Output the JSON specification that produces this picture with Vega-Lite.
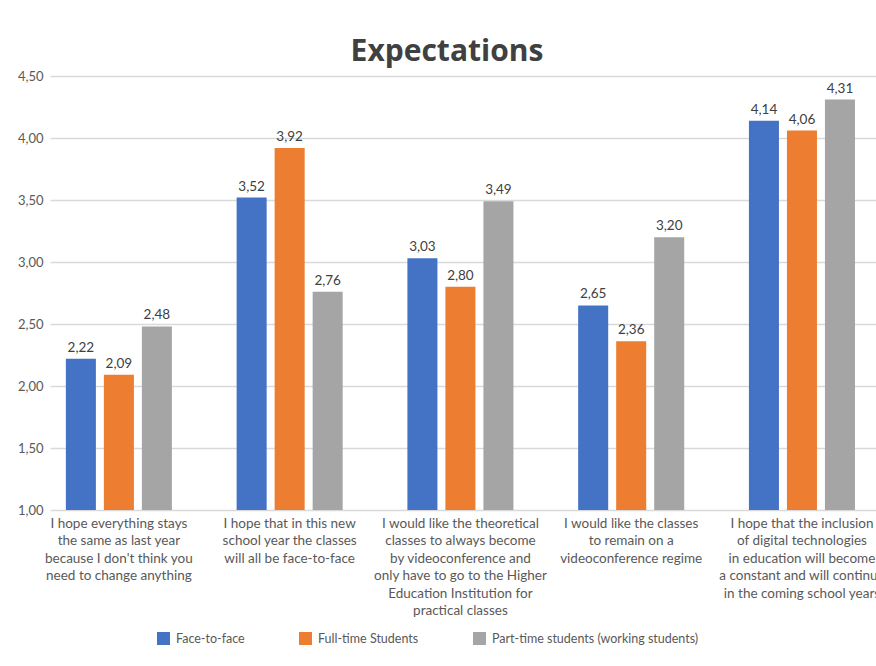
{
  "$schema": "https://vega.github.io/schema/vega-lite/v6.json",
  "autosize": {"type": "none"},
  "width": 826,
  "height": 434,
  "padding": {"left": 50, "top": 76, "right": 0, "bottom": 156},
  "background": "white",
  "config": {
    "locale": {"number": {"decimal": ",", "thousands": ".", "grouping": [3], "currency": ["", " €"]}},
    "view": {"stroke": null},
    "font": "Lato"
  },
  "title": {
    "text": "Expectations",
    "font": "Open Sans",
    "fontSize": 30,
    "fontWeight": "bold",
    "color": "#404040",
    "anchor": "middle",
    "baseline": "alphabetic",
    "offset": -21,
    "dx": -16
  },
  "data": {
    "values": [
      {"q": "I hope everything stays|the same as last year|because I don't think you|need to change anything", "group": "Face-to-face", "value": 2.22},
      {"q": "I hope everything stays|the same as last year|because I don't think you|need to change anything", "group": "Full-time Students", "value": 2.09},
      {"q": "I hope everything stays|the same as last year|because I don't think you|need to change anything", "group": "Part-time students (working students)", "value": 2.48},
      {"q": "I hope that in this new|school year the classes|will all be face-to-face", "group": "Face-to-face", "value": 3.52},
      {"q": "I hope that in this new|school year the classes|will all be face-to-face", "group": "Full-time Students", "value": 3.92},
      {"q": "I hope that in this new|school year the classes|will all be face-to-face", "group": "Part-time students (working students)", "value": 2.76},
      {"q": "I would like the theoretical|classes to always become|by videoconference and|only have to go to the Higher|Education Institution for|practical classes", "group": "Face-to-face", "value": 3.03},
      {"q": "I would like the theoretical|classes to always become|by videoconference and|only have to go to the Higher|Education Institution for|practical classes", "group": "Full-time Students", "value": 2.80},
      {"q": "I would like the theoretical|classes to always become|by videoconference and|only have to go to the Higher|Education Institution for|practical classes", "group": "Part-time students (working students)", "value": 3.49},
      {"q": "I would like the classes|to remain on a|videoconference regime", "group": "Face-to-face", "value": 2.65},
      {"q": "I would like the classes|to remain on a|videoconference regime", "group": "Full-time Students", "value": 2.36},
      {"q": "I would like the classes|to remain on a|videoconference regime", "group": "Part-time students (working students)", "value": 3.20},
      {"q": "I hope that the inclusion|of digital technologies|in education will become|a constant and will continue|in the coming school years", "group": "Face-to-face", "value": 4.14},
      {"q": "I hope that the inclusion|of digital technologies|in education will become|a constant and will continue|in the coming school years", "group": "Full-time Students", "value": 4.06},
      {"q": "I hope that the inclusion|of digital technologies|in education will become|a constant and will continue|in the coming school years", "group": "Part-time students (working students)", "value": 4.31}
    ]
  },
  "encoding": {
    "x": {
      "field": "q",
      "type": "nominal",
      "sort": null,
      "scale": {"paddingInner": 0.379, "paddingOuter": 0.108, "align": 0.43},
      "axis": {
        "title": null,
        "domain": false,
        "ticks": false,
        "labelAngle": 0,
        "labelExpr": "split(datum.label, '|')",
        "labelFontSize": 13.5,
        "labelColor": "#595959",
        "labelLineHeight": 17.5,
        "labelPadding": 6,
        "labelLimit": 300,
        "labelOverlap": false,
        "labelBaseline": "top"
      }
    },
    "xOffset": {
      "field": "group",
      "type": "nominal",
      "sort": ["Face-to-face", "Full-time Students", "Part-time students (working students)"],
      "scale": {"paddingInner": 0.21, "paddingOuter": 0}
    },
    "y": {
      "field": "value",
      "type": "quantitative",
      "scale": {"domain": [1, 4.5], "nice": false, "zero": false},
      "axis": {
        "title": null,
        "domain": false,
        "ticks": false,
        "tickSize": 0,
        "values": [1, 1.5, 2, 2.5, 3, 3.5, 4, 4.5],
        "format": ".2f",
        "labelFontSize": 13,
        "labelColor": "#595959",
        "labelPadding": 7,
        "gridColor": "#d9d9d9",
        "gridWidth": 1.3
      }
    }
  },
  "layer": [
    {
      "mark": {"type": "bar"},
      "encoding": {
        "y2": {"datum": 1},
        "color": {
          "field": "group",
          "type": "nominal",
          "sort": ["Face-to-face", "Full-time Students", "Part-time students (working students)"],
          "scale": {"domain": ["Face-to-face", "Full-time Students", "Part-time students (working students)"], "range": ["#4472C4", "#ED7D31", "#A5A5A5"]},
          "legend": {
            "title": null,
            "orient": "none",
            "direction": "horizontal",
            "legendX": 107,
            "legendY": 556,
            "symbolType": "square",
            "symbolSize": 169,
            "symbolStrokeWidth": 0,
            "labelFontSize": 12.5,
            "labelColor": "#595959",
            "labelOffset": 6,
            "columnPadding": 54,
            "labelLimit": 400
          }
        }
      }
    },
    {
      "mark": {"type": "text", "baseline": "bottom", "dy": -4, "fontSize": 13.5, "color": "#404040"},
      "encoding": {
        "text": {"field": "value", "type": "quantitative", "format": ".2f"}
      }
    }
  ]
}
